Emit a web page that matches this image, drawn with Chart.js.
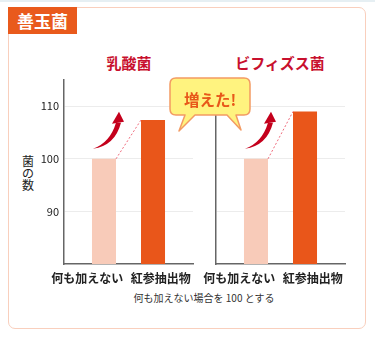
<!DOCTYPE html>
<html>
<head>
<meta charset="utf-8">
<script src="https://cdn.jsdelivr.net/npm/chart.js@4"></script>
<style>
  body { margin: 0; background: #fff; font-family: "Noto Sans CJK JP", sans-serif; }
  #wrap { position: relative; width: 375px; height: 337px; overflow: hidden; }
  .strip { position: absolute; left: 0; top: 0; width: 375px; height: 2px; background: #e6eff3; }
  .panel { position: absolute; left: 8px; top: 7px; width: 356px; height: 320px; border: 1.5px solid #f9cfbd; border-radius: 7px; }
  .tab { position: absolute; left: 8px; top: 7px; width: 69px; height: 27px; background: #e95a1c; color: #fff;
         font-weight: bold; font-size: 17px; line-height: 27px; text-align: center; }
  .title { position: absolute; top: 52px; width: 150px; text-align: center; color: #c8102e; font-weight: bold; font-size: 15px; line-height: 22px; }
  .ylab { position: absolute; left: 22px; top: 155px; width: 12px; font-size: 12px; line-height: 12px; color: #222; }
  .note { position: absolute; left: 0; top: 290px; width: 408px; text-align: center; font-size: 10px; line-height: 16px; color: #333; }
  canvas { position: absolute; top: 0; }
  svg { position: absolute; left: 0; top: 0; }
</style>
</head>
<body>
<div id="wrap">
  <div class="strip"></div>
  <div class="panel"></div>
  <div class="tab">善玉菌</div>
  <div class="title" style="left:54px">乳酸菌</div>
  <div class="title" style="left:205px">ビフィズス菌</div>
  <div class="ylab">菌<br>の<br>数</div>
  <canvas id="lactic" width="200" height="290" style="left:0"></canvas>
  <canvas id="bifido" width="200" height="290" style="left:152px"></canvas>
  <div class="note">何も加えない場合を 100 とする</div>
  <svg width="375" height="337">
    <path d="M176,78 H244 Q250,78 250,84 V109 Q250,115 244,115 H236 L241,130 L227,115 H195 L179,131 L185,115 H176 Q170,115 170,109 V84 Q170,78 176,78 Z"
          fill="#fff37f" stroke="#f39b63" stroke-width="1.5" stroke-linejoin="round"/>
    <text x="210" y="99" text-anchor="middle" dominant-baseline="central" font-family="Noto Sans CJK JP" font-weight="bold" font-size="15.5" fill="#e8581a">増えた!</text>
  </svg>
</div>
<script>
var categories = ['何も加えない', '紅参抽出物'];
var lacticValues = [100, 107.4];   // 乳酸菌
var bifidoValues = [100, 109];     // ビフィズス菌
var yTicks = [90, 100, 110];
var barColors = ['#f8cbb9', '#e9561a'];

// where the two category names sit along the bottom (0 = y axis, 1 = right end)
var nameSlots = [0.18, 0.75];

// dotted link between bar tops and the red "up" arrow
var growthMarks = {
  id: 'growthMarks',
  afterDatasetsDraw: function(chart) {
    var a = chart.getDatasetMeta(0).data[0];
    var b = chart.getDatasetMeta(1).data[0];
    var ctx = chart.ctx;
    ctx.save();
    ctx.strokeStyle = '#ef6b7c';
    ctx.lineWidth = 1;
    ctx.setLineDash([2, 2]);
    ctx.beginPath();
    ctx.moveTo(a.x + a.width / 2, a.y);
    ctx.lineTo(b.x - b.width / 2, b.y);
    ctx.stroke();
    ctx.setLineDash([]);

    // swoosh arrow, tail just above the left bar
    var tx = a.x - a.width / 2 + 1, ty = a.y - 10;
    ctx.translate(tx, ty);
    ctx.fillStyle = '#c4001c';
    ctx.beginPath();
    ctx.moveTo(0, 0);
    ctx.quadraticCurveTo(22, -3, 28, -26);
    ctx.lineTo(23, -26);
    ctx.quadraticCurveTo(17, -6, 0, 0);
    ctx.fill();
    ctx.beginPath();
    ctx.moveTo(19, -25);
    ctx.lineTo(31, -27);
    ctx.lineTo(26, -37);
    ctx.closePath();
    ctx.fill();
    ctx.restore();
  }
};

function makeChart(id, values, showTicks) {
  return new Chart(document.getElementById(id), {
    type: 'bar',
    data: {
      labels: [''],
      datasets: [
        { label: categories[0], data: [values[0]], backgroundColor: barColors[0] },
        { label: categories[1], data: [values[1]], backgroundColor: barColors[1] }
      ]
    },
    options: {
      responsive: false,
      animation: false,
      layout: { padding: { top: 80, right: 7, left: 0, bottom: 0 } },
      datasets: { bar: { categoryPercentage: 0.76, barPercentage: 0.49 } },
      plugins: { legend: { display: false }, tooltip: { enabled: false } },
      scales: {
        x: {
          weight: 0,
          grid: { display: false },
          ticks: { display: false },
          border: { color: '#666', width: 1.5 },
          afterFit: function(s) { s.height = 0; }
        },
        names: {
          type: 'linear',
          axis: 'x',
          position: 'bottom',
          weight: 1,
          min: 0,
          max: 1,
          offset: false,
          afterBuildTicks: function(s) { s.ticks = nameSlots.map(function(v) { return { value: v }; }); },
          grid: { display: false, drawTicks: false },
          border: { display: false },
          ticks: {
            color: '#222', padding: 7, maxRotation: 0, autoSkip: false,
            font: { family: 'Noto Sans CJK JP', size: 12, weight: 'bold' },
            callback: function(v, i) { return categories[i]; }
          },
          afterFit: function(s) { s.height = 26; }
        },
        y: {
          min: 80,
          max: 115,
          afterBuildTicks: function(s) { s.ticks = yTicks.map(function(v) { return { value: v }; }); },
          grid: { color: '#ececec', drawTicks: false },
          border: { color: '#666', width: 1.5 },
          ticks: {
            display: showTicks, color: '#222', padding: 5,
            font: { family: 'Noto Sans CJK JP', size: 11 }
          },
          afterFit: function(s) { s.width = 64; }
        }
      }
    },
    plugins: [growthMarks]
  });
}

makeChart('lactic', lacticValues, true);
makeChart('bifido', bifidoValues, false);
</script>
</body>
</html>
